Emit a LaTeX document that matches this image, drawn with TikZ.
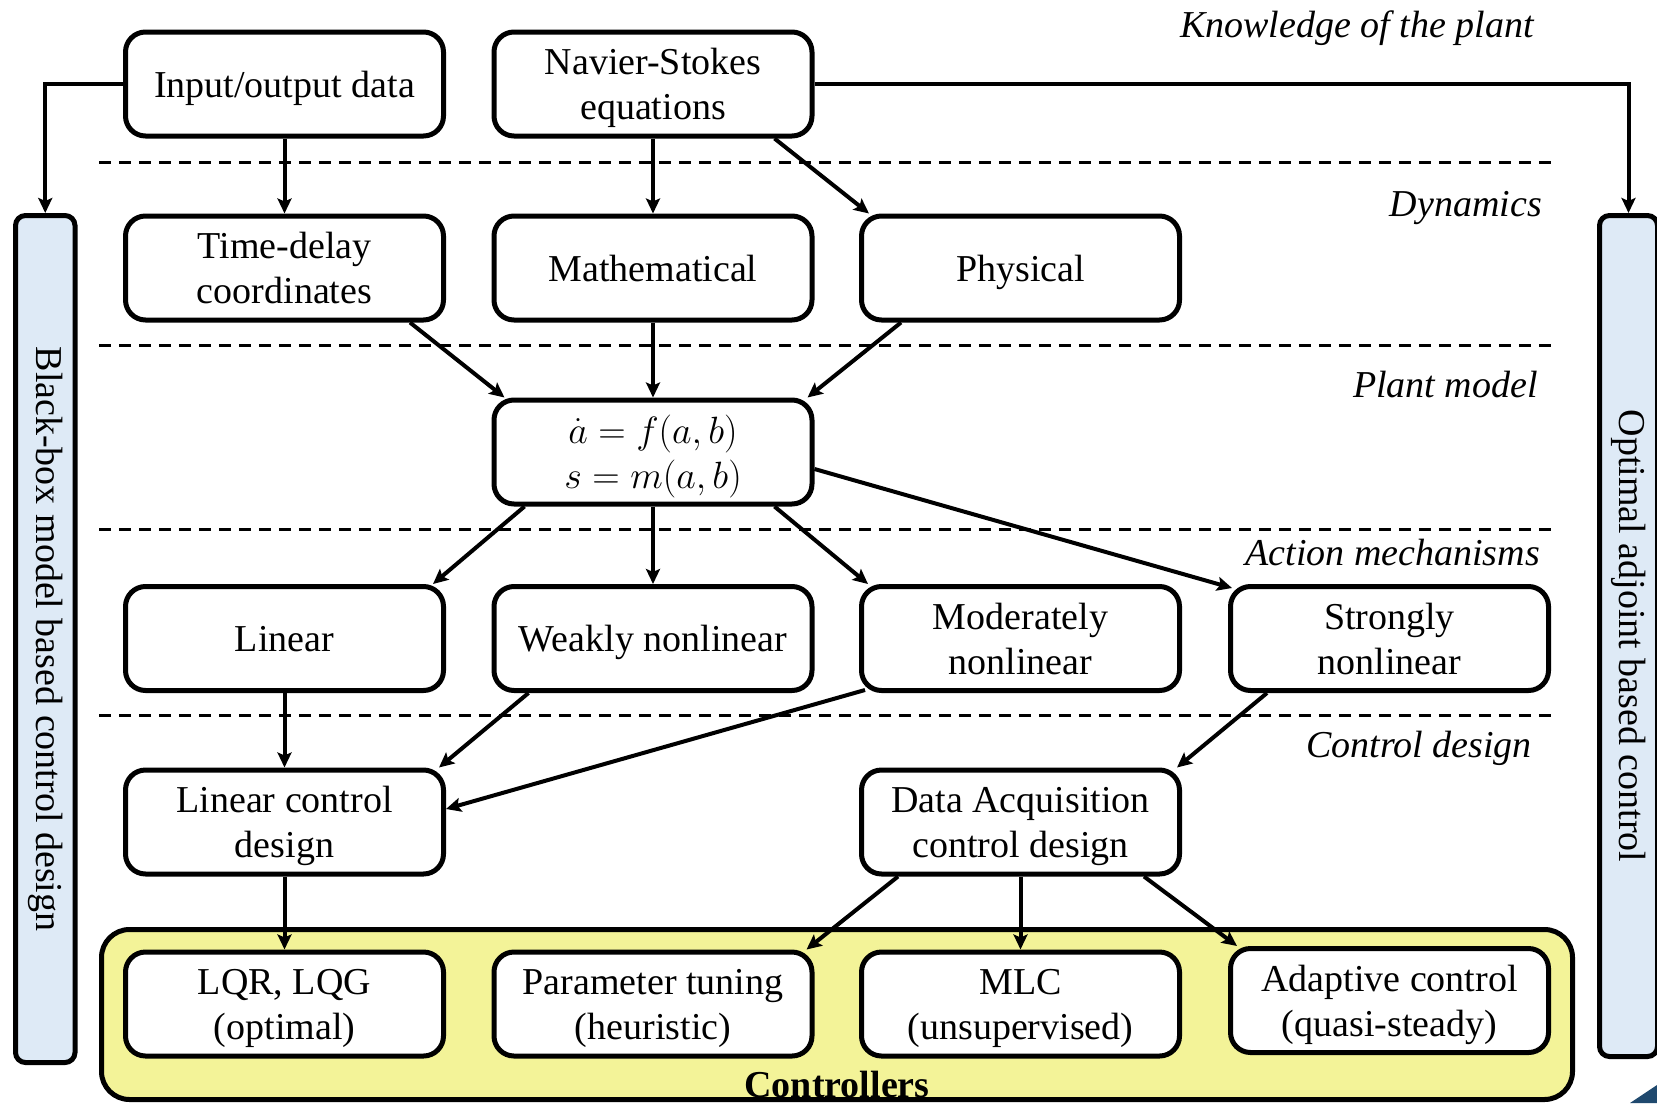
\RequirePackage{fix-cm}
\documentclass[tikz,border=0pt]{standalone}
\usepackage{fontspec}
\setmainfont{Liberation Serif}
\usetikzlibrary{arrows.meta,calc}
\definecolor{barblue}{RGB}{222,234,246}
\definecolor{ctrlyellow}{RGB}{243,243,152}
\definecolor{navyblue}{RGB}{31,73,110}
\DeclareMathSizes{38}{38}{28}{20}
\begin{document}
\begin{tikzpicture}[x=1pt,y=-1pt,
  box/.style={draw, line width=5pt, rounded corners=20pt, fill=white,
    minimum width=318pt, minimum height=104pt, inner sep=0pt,
    align=center, text depth=0pt, font=\fontsize{38}{45}\selectfont},
  arr/.style={line width=4pt, -{Stealth[length=15pt,width=14pt,inset=3pt]}},
  sepline/.style={line width=3pt, dash pattern=on 12pt off 8pt},
  lvl/.style={anchor=base east, inner sep=0pt, font=\fontsize{38}{45}\selectfont\itshape},
  sidebar/.style={draw, line width=5pt, rounded corners=10pt, fill=barblue, inner sep=0pt},
  barlabel/.style={rotate=-90, inner sep=0pt, font=\fontsize{38}{45}\selectfont},
]
\useasboundingbox (0,0) rectangle (1657,1103);
\clip (0,0) rectangle (1657,1103);

% separators
\coordinate (s1a) at (99,162);   \coordinate (s1b) at (1551,162);
\coordinate (s2a) at (99,345);   \coordinate (s2b) at (1551,345);
\coordinate (s3a) at (99,529);   \coordinate (s3b) at (1551,529);
\coordinate (s4a) at (99,715);   \coordinate (s4b) at (1551,715);
\draw[sepline] (s1a) -- (s1b);
\draw[sepline] (s2a) -- (s2b);
\draw[sepline] (s3a) -- (s3b);
\draw[sepline] (s4a) -- (s4b);

% level labels
\node[lvl] (lk) at (1534,37) {Knowledge of the plant};
\node[lvl] (ld) at (1542,216) {Dynamics};
\node[lvl] (lp) at (1538,397) {Plant model};
\node[lvl] (la) at (1540,565) {Action mechanisms};
\node[lvl] (lc) at (1532,757) {Control design};

% side bars
\node[sidebar, minimum width=59.5pt, minimum height=847pt] (lbar) at (45.25,639) {};
\node[barlabel] (lbartext) at (lbar.center) {Black-box model based control design};
\node[sidebar, minimum width=58pt, minimum height=841pt] (rbar) at (1628.5,636) {};
\node[barlabel] (rbartext) at (rbar.center) {Optimal adjoint based control};

% controllers area
\node[draw, line width=5pt, rounded corners=28pt, fill=ctrlyellow, inner sep=0pt,
      minimum width=1471pt, minimum height=170pt] (ctrlarea) at (837,1014.5) {};
\node[anchor=base, inner sep=0pt, font=\fontsize{38}{45}\selectfont\bfseries] (ctrltext) at (837,1097) {Controllers};

% boxes
\node[box] (io)    at (284.5,84)  {Input/output data};
\node[box] (ns)    at (653,84)    {Navier-Stokes\\equations};
\node[box] (td)    at (284.5,268) {Time-delay\\coordinates};
\node[box] (math)  at (653,268)   {Mathematical};
\node[box] (phys)  at (1020.5,268){Physical};
\node[box] (plant) at (653,452)   {$\dot a = f(a,b)$\\$s = m(a,b)$};
\node[box] (lin)   at (284.5,638.5) {Linear};
\node[box] (weak)  at (653,638.5)   {Weakly nonlinear};
\node[box] (mod)   at (1020.5,638.5){Moderately\\nonlinear};
\node[box] (strong) at (1389.5,638.5){Strongly\\nonlinear};
\node[box] (linctl) at (284.5,822)  {Linear control\\design};
\node[box] (dacq)  at (1020.5,822)  {Data Acquisition\\control design};
\node[box] (lqr)   at (284.5,1004)  {LQR, LQG\\(optimal)};
\node[box] (param) at (653,1004)    {Parameter tuning\\(heuristic)};
\node[box] (mlc)   at (1020.5,1004) {MLC\\(unsupervised)};
\node[box] (adapt) at (1389.5,1000.5){Adaptive control\\(quasi-steady)};

% connectors
\draw[arr] (io.west) -| (lbar.north);
\draw[arr] (ns.east) -| (rbar.north);
\draw[arr] (io.south) -- (td.north);
\draw[arr] (ns.south) -- (math.north);
\draw[arr] ($(ns.south east)+(-40,0)$) -- ($(phys.north west)+(10,0)$);
\draw[arr] ($(td.south east)+(-36,0)$) -- ($(plant.north west)+(13,0)$);
\draw[arr] (math.south) -- (plant.north);
\draw[arr] ($(phys.south west)+(42,0)$) -- ($(plant.north east)+(-7,0)$);
\draw[arr] ($(plant.south west)+(33,0)$) -- ($(lin.north east)+(-13,0)$);
\draw[arr] (plant.south) -- (weak.north);
\draw[arr] ($(plant.south east)+(-40,0)$) -- ($(mod.north west)+(9,0)$);
\draw[arr] ($(plant.east)+(0,17)$) -- ($(strong.north west)+(4,4)$);
\draw[arr] (lin.south) -- (linctl.north);
\draw[arr] ($(weak.south west)+(37,0)$) -- ($(linctl.north east)+(-7,0)$);
\draw[arr] ($(mod.south west)+(6,-3)$) -- ($(linctl.east)+(0,-13)$);
\draw[arr] ($(strong.south west)+(39,0)$) -- ($(dacq.north east)+(-5,0)$);
\draw[arr] (linctl.south) -- (lqr.north);
\draw[arr] ($(dacq.south west)+(39,0)$) -- ($(param.north east)+(-8,0)$);
\draw[arr] (dacq.south) -- (mlc.north);
\draw[arr] ($(dacq.south east)+(-38,0)$) -- ($(adapt.north west)+(9,0)$);

% corner decoration
\fill[navyblue] (1630,1103) -- (1657,1085) -- (1657,1103) -- cycle;
\end{tikzpicture}
\end{document}
